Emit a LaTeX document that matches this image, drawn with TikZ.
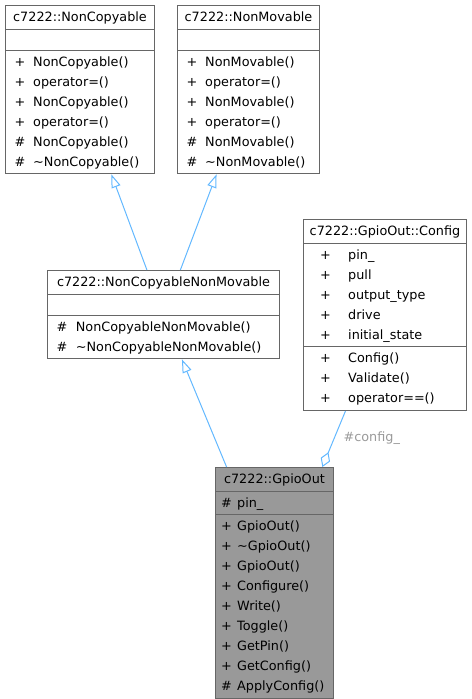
\documentclass[tikz,border=0pt]{standalone}
\usepackage{fontspec}
\setmainfont{DejaVu Sans}
\usetikzlibrary{shapes.multipart,arrows.meta}

\definecolor{umlborder}{HTML}{666666}
\definecolor{umlcurrent}{HTML}{999999}
\definecolor{umledge}{HTML}{63B8FF}
\definecolor{umllabel}{HTML}{9A9A9A}

% member rows: lead space, gap after the visibility sign, rows
\newcommand{\members}[3]{%
  \begin{tabular}{@{\hspace{#1}}l@{\hspace{#2}}l@{}}#3\end{tabular}}

\begin{document}
\begin{tikzpicture}[x=0.75pt,y=-0.75pt,
  classbox/.style={rectangle split,rectangle split parts=3,
    rectangle split part align={center,left,left},
    draw=umlborder,fill=white,line width=0.75pt,
    inner xsep=0pt,inner ysep=1pt,anchor=north west,
    font=\fontsize{9.6pt}{15pt}\selectfont},
  current/.style={fill=umlcurrent},
  inherits/.style={draw=umledge,line width=0.75pt,
    -{Triangle[open,length=10pt,width=7pt]}},
  aggregates/.style={draw=umledge,line width=0.75pt,
    -{Diamond[open,length=12pt,width=7.5pt]}},
  role/.style={anchor=west,inner sep=0pt,xshift=6.75pt,text=umllabel,
    font=\fontsize{9.6pt}{15pt}\selectfont}]
\useasboundingbox (0,0) rectangle (471,699);

	\node[classbox,minimum width=111.75pt] (noncopyable) at (5,5) {\strut c7222::NonCopyable
		\nodepart{two}\rule{0pt}{13pt}
		\nodepart{three}\members{6.75pt}{6pt}{+ & NonCopyable()\\ + & operator=()\\
			+ & NonCopyable()\\ + & operator=()\\ \# & NonCopyable()\\
			\# & \textasciitilde NonCopyable()}};
	\node[classbox,minimum width=106.5pt] (nonmovable) at (177,5) {\strut c7222::NonMovable
		\nodepart{two}\rule{0pt}{13pt}
		\nodepart{three}\members{6.75pt}{6pt}{+ & NonMovable()\\ + & operator=()\\
			+ & NonMovable()\\ + & operator=()\\ \# & NonMovable()\\
			\# & \textasciitilde NonMovable()}};
	\node[classbox,minimum width=174pt] (ncnm) at (47,270) {\strut c7222::NonCopyableNonMovable
		\nodepart{two}\rule{0pt}{13pt}
		\nodepart{three}\members{6.75pt}{6.5pt}{\# & NonCopyableNonMovable()\\
			\# & \textasciitilde NonCopyableNonMovable()}};
	\node[classbox,minimum width=122.25pt] (config) at (303,219) {\strut c7222::GpioOut::Config
		\nodepart{two}\members{12.5pt}{13pt}{+ & pin\_\\ + & pull\\ + & output\_type\\
			+ & drive\\ + & initial\_state}
		\nodepart{three}\members{12.5pt}{13pt}{+ & Config()\\ + & Validate()\\
			+ & operator==()}};
	\node[classbox,current,minimum width=88.5pt] (gpioout) at (215,467) {\strut c7222::GpioOut
		\nodepart{two}\members{4.3pt}{3.9pt}{\# & pin\_}
		\nodepart{three}\members{4.3pt}{3.9pt}{+ & GpioOut()\\ + & \textasciitilde GpioOut()\\
			+ & GpioOut()\\ + & Configure()\\ + & Write()\\ + & Toggle()\\
			+ & GetPin()\\ + & GetConfig()\\ \# & ApplyConfig()}};

	\path[inherits]
	(ncnm) edge (noncopyable)
	       edge (nonmovable)
	(gpioout) edge (ncnm)
	;
	\path[aggregates]
	(config) edge node[role,pos=0.49] {\#config\_} (gpioout)
	;
\end{tikzpicture}
\end{document}
